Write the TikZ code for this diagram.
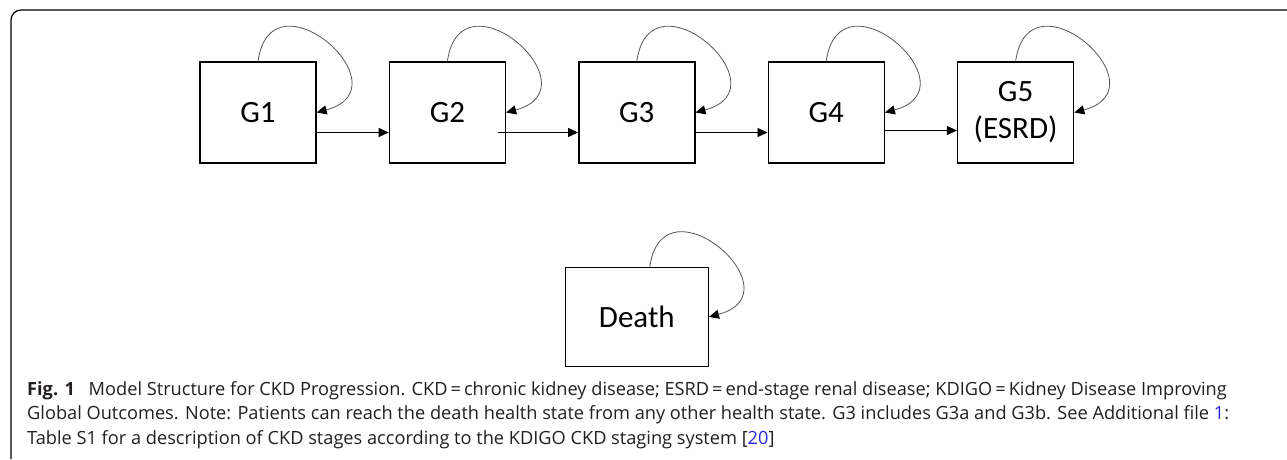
\documentclass[tikz,border=0pt]{standalone}
\usepackage{fontspec}
\setmainfont{Carlito}
\newfontfamily\capfont{Open Sans}
\usetikzlibrary{arrows.meta, positioning, calc}
\definecolor{linkblue}{RGB}{40,40,215}
\definecolor{loopgray}{RGB}{85,85,85}
\definecolor{captext}{RGB}{35,31,32}

\begin{document}
\begin{tikzpicture}[x=1pt, y=1pt, >={Triangle[length=10pt, width=9pt]},
    statebox/.style={draw, line width=1.4pt, minimum width=116pt, minimum height=101pt,
        inner sep=0pt, align=center, font=\fontsize{31}{37}\selectfont},
    stayloop/.style={-{Triangle[length=10pt, width=9pt, color=black]}, draw=loopgray,
        line width=0.8pt, out=82, in=15, looseness=3.1},
    move/.style={->, line width=0.9pt}]
        \useasboundingbox (0,0) rectangle (1287,-459);
        % Frame
        \draw [line width=1.2pt, rounded corners=10pt] (11,-459) -- (11,-10) -- (1287,-10);
        % Health states
        \node [statebox] (g1) at (258,-112.5) {G1};
        \node [statebox, right=72pt of g1] (g2) {G2};
        \node [statebox, right=72pt of g2] (g3) {G3};
        \node [statebox, right=72pt of g3] (g4) {G4};
        \node [statebox, right=72pt of g4] (g5) {G5\\(ESRD)};
        \node [statebox, minimum width=143pt, minimum height=99pt, below=103pt of g3] (death) {Death};
        % Progression
        \draw [move] ([yshift=-20pt]g1.east) -- ([yshift=-20pt]g2.west);
        \draw [move] ([xshift=-8pt, yshift=-20pt]g2.east) -- ([yshift=-20pt]g3.west);
        \draw [move] ([yshift=-20pt]g3.east) -- ([yshift=-20pt]g4.west);
        \draw [move] ([yshift=-18pt]g4.east) -- ([yshift=-18pt]g5.west);
        % Staying in a state
        \foreach \s in {g1, g2, g3, g4, g5}
            \draw [stayloop] (\s.north) to (\s.east);
        \draw [stayloop] ([xshift=13pt]death.north) to (death.east);
        % Caption
        \node [anchor=north west, align=left, inner sep=0pt, text=captext,
            font=\capfont\fontsize{18.2}{24.5}\selectfont] (caption) at (27,-381)
            {\textbf{Fig. 1}\hspace{0.5em} Model Structure for CKD Progression. CKD\,=\,chronic kidney disease; ESRD\,=\,end-stage renal disease; KDIGO\,=\,Kidney Disease Improving\\
            Global Outcomes. Note: Patients can reach the death health state from any other health state. G3 includes G3a and G3b. See Additional file {\color{linkblue}1}:\\
            Table S1 for a description of CKD stages according to the KDIGO CKD staging system [{\color{linkblue}20}]};
\end{tikzpicture}
\end{document}
